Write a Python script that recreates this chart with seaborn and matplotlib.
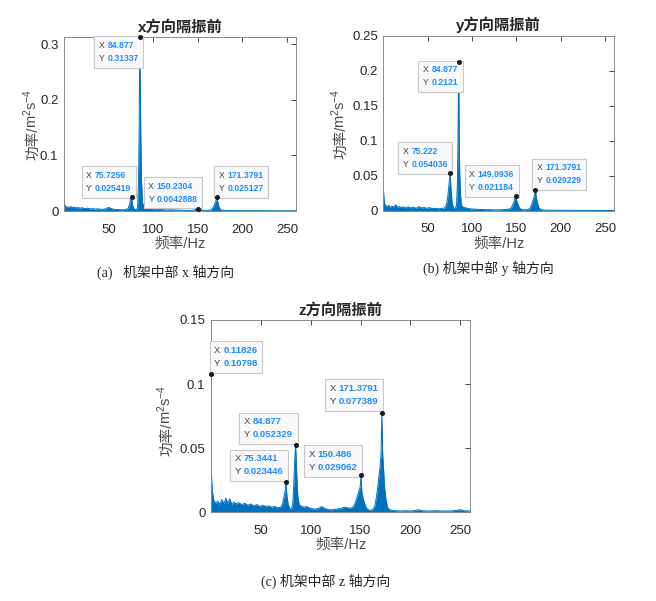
import numpy as np
import pandas as pd
import seaborn as sns
import matplotlib.pyplot as plt
from matplotlib.offsetbox import TextArea, HPacker, AnnotationBbox

# ---- spectra (frequency in Hz, power) ----
freq_x = [0.11826, 1, 2, 4, 6, 8, 10, 12, 14, 16, 18, 20, 23, 26, 29, 32, 35, 38, 41, 44,
          47, 50, 53, 56, 59, 62, 65, 68, 70, 72, 73.5, 74.5, 75.7256, 76.5, 77.5, 79, 81,
          82.5, 83.5, 84.3, 84.877, 85.4, 86, 86.8, 88, 90, 93, 96, 100, 105, 110, 115, 120,
          125, 130, 135, 140, 145, 150.2304, 155, 160, 164, 166, 168, 169.5, 170.5, 171.3791,
          172.2, 173.5, 175, 177, 180, 185, 190, 200, 210, 220, 230, 240, 250, 260]
psd_x = [0.013, 0.011, 0.008, 0.007, 0.0065, 0.008, 0.006, 0.007, 0.0055, 0.0065, 0.005, 0.006,
         0.0045, 0.005, 0.004, 0.0042, 0.0035, 0.004, 0.003, 0.0032, 0.004, 0.0065, 0.0045,
         0.003, 0.0028, 0.0025, 0.0022, 0.0025, 0.003, 0.005, 0.012, 0.019, 0.025419, 0.016,
         0.007, 0.003, 0.0025, 0.006, 0.05, 0.155, 0.31337, 0.24, 0.15, 0.06, 0.015, 0.007,
         0.005, 0.0045, 0.004, 0.003, 0.0025, 0.002, 0.0022, 0.0018, 0.0015, 0.0012, 0.001,
         0.0012, 0.0042888, 0.0015, 0.001, 0.0015, 0.004, 0.009, 0.015, 0.02, 0.025127, 0.017,
         0.008, 0.003, 0.0015, 0.001, 0.0008, 0.0007, 0.0006, 0.0006, 0.0005, 0.0005, 0.0004,
         0.0004, 0.0004]
tips_x = [84.877, 75.7256, 150.2304, 171.3791]

freq_y = [0.11826, 0.6, 1.2, 2, 4, 6, 8, 10, 12, 14, 16, 18, 20, 22, 25, 28, 31, 34, 37, 40,
          43, 46, 49, 52, 55, 58, 61, 64, 67, 69, 71, 72.5, 73.8, 75.222, 76.3, 77.5, 79, 81,
          82.5, 83.5, 84.3, 84.877, 85.4, 86, 86.8, 88, 90, 93, 96, 100, 105, 110, 115, 120,
          125, 130, 135, 140, 143, 145, 147, 148.2, 149.0936, 150, 151.5, 153, 155, 158, 162,
          165, 167, 169, 170.3, 171.3791, 172.3, 173.5, 175, 177, 180, 185, 190, 200, 210, 220,
          230, 240, 250, 260]
psd_y = [0.03, 0.02, 0.012, 0.008, 0.006, 0.0075, 0.005, 0.0065, 0.0055, 0.0085, 0.005, 0.006,
         0.0045, 0.0055, 0.004, 0.0055, 0.004, 0.005, 0.0035, 0.006, 0.004, 0.0045, 0.0035,
         0.0045, 0.003, 0.0035, 0.003, 0.0028, 0.0035, 0.004, 0.008, 0.018, 0.035, 0.054036,
         0.03, 0.012, 0.004, 0.003, 0.008, 0.04, 0.12, 0.2121, 0.12, 0.06, 0.025, 0.008, 0.005,
         0.004, 0.003, 0.0025, 0.002, 0.0018, 0.0015, 0.0015, 0.0012, 0.0012, 0.0015, 0.002,
         0.003, 0.006, 0.012, 0.017, 0.021184, 0.016, 0.01, 0.005, 0.002, 0.0012, 0.0015,
         0.003, 0.008, 0.016, 0.022, 0.029229, 0.02, 0.012, 0.005, 0.002, 0.001, 0.0008,
         0.0007, 0.0006, 0.0006, 0.0005, 0.0005, 0.0004, 0.0004, 0.0004]
tips_y = [84.877, 75.222, 149.0936, 171.3791]

freq_z = [0.11826, 0.3, 0.6, 1, 1.5, 2, 3, 5, 7, 9, 11, 13, 15, 17, 19, 21, 23, 25, 28, 31,
          34, 37, 40, 43, 46, 49, 52, 55, 58, 61, 64, 67, 70, 72, 73.5, 74.5, 75.3441, 76.2,
          77.5, 79, 80.5, 82, 83, 84, 84.877, 85.5, 86.3, 87.2, 88.5, 90, 93, 96, 100, 104,
          108, 111, 114, 118, 122, 126, 130, 134, 137, 140, 143, 145, 147, 148.5, 149.7,
          150.486, 151.3, 152.5, 154, 156, 159, 162, 164, 166, 168, 169.5, 170.5, 171.3791,
          172.2, 173, 174, 175.5, 177, 179, 182, 186, 190, 195, 200, 205, 208, 212, 218, 225,
          232, 240, 246, 250, 254, 260]
psd_z = [0.10798, 0.16, 0.03, 0.022, 0.016, 0.014, 0.009, 0.007, 0.0085, 0.006, 0.01, 0.0065,
         0.011, 0.007, 0.0105, 0.006, 0.008, 0.0065, 0.0075, 0.006, 0.007, 0.0055, 0.0065,
         0.005, 0.006, 0.0045, 0.0055, 0.0045, 0.005, 0.004, 0.0045, 0.0035, 0.004, 0.007,
         0.013, 0.017, 0.023446, 0.013, 0.006, 0.003, 0.002, 0.006, 0.02, 0.04, 0.052329,
         0.042, 0.025, 0.012, 0.006, 0.005, 0.004, 0.0045, 0.003, 0.0025, 0.003, 0.0045, 0.003,
         0.002, 0.002, 0.0025, 0.003, 0.004, 0.0035, 0.003, 0.0045, 0.008, 0.013, 0.017, 0.02,
         0.029062, 0.016, 0.011, 0.007, 0.003, 0.0015, 0.002, 0.004, 0.012, 0.025, 0.035,
         0.045, 0.077389, 0.045, 0.035, 0.02, 0.01, 0.004, 0.002, 0.0015, 0.0012, 0.001,
         0.0012, 0.001, 0.0015, 0.002, 0.0012, 0.001, 0.0012, 0.001, 0.001, 0.0015, 0.002,
         0.0012, 0.001]
tips_z = [0.11826, 84.877, 75.3441, 150.486, 171.3791]

titles = ["x方向隔振前", "y方向隔振前", "z方向隔振前"]
captions = ["(a)   机架中部 x 轴方向", "(b) 机架中部 y 轴方向", "(c) 机架中部 z 轴方向"]
yticks_all = [[0, 0.1, 0.2, 0.3], [0, 0.05, 0.1, 0.15, 0.2, 0.25], [0, 0.05, 0.1, 0.15]]
ytop = [0.31337, 0.25, 0.15]

sns.set_theme(style="white")
plt.rcParams['font.family'] = ['Liberation Sans', 'Noto Sans CJK SC', 'DejaVu Sans']
plt.rcParams['mathtext.fontset'] = 'custom'
plt.rcParams['mathtext.rm'] = 'Liberation Sans'
plt.rcParams['mathtext.default'] = 'rm'

blue = '#0072BD'
lab_col = '#4a4a4a'
fig = plt.figure(figsize=(6.56, 6.01), dpi=100)
axes = [fig.add_axes([0.0976, 0.6489, 0.3537, 0.2895]),
        fig.add_axes([0.5845, 0.6494, 0.3515, 0.2912]),
        fig.add_axes([0.3216, 0.1476, 0.3953, 0.3200])]

# datatip offsets (pixels from the marked point to the box centre)
tip_offsets = [[(-21, -15), (-23, 15), (-25, 16), (24, 15)],
               [(-18, -14), (-25, 15), (-24, 15), (24, 16)],
               [(25, 17), (-27, 17), (-27, 17), (-28, 14), (-28, 18)]]
tip_fs = [6.2, 6.2, 6.8]
cap_pos = [(166, 272), (488, 268), (326, 581)]
ylab_x = [-0.115, -0.165, -0.155]   # baseline of the y label, axes fraction
ylab_y0 = 0.295

data = [(freq_x, psd_x, tips_x), (freq_y, psd_y, tips_y), (freq_z, psd_z, tips_z)]


def datatip(ax, x, y, off, fs):
    lab = TextArea("X\nY", textprops=dict(color="#404040", fontsize=fs, linespacing=1.6))
    val = TextArea(f"{x}\n{y}", textprops=dict(color="#1a8cff", fontsize=fs,
                                              fontweight="bold", linespacing=1.6))
    pack = HPacker(children=[lab, val], align="center", pad=0, sep=2)
    ab = AnnotationBbox(pack, (x, y), xybox=off, boxcoords="offset pixels",
                        box_alignment=(0.5, 0.5), frameon=True, pad=0.4,
                        annotation_clip=False,
                        bboxprops=dict(boxstyle="square", ec="#c8c8c8", fc="#f9f9fc", lw=0.8))
    ax.add_artist(ab)
    ax.plot([x], [y], 'o', ms=2.6, color='#1a1a1a', zorder=6, clip_on=False)


for i, ax in enumerate(axes):
    f, p, tips = data[i]
    df = pd.DataFrame({'freq': f, 'psd': p})
    ax.fill_between(df['freq'], 0, df['psd'], color=blue, lw=0)
    sns.lineplot(data=df, x='freq', y='psd', ax=ax, color=blue, lw=0.7, estimator=None)
    ax.set_xlim(0.11826, 260)
    ax.set_ylim(0, ytop[i])
    ax.set_xticks([50, 100, 150, 200, 250])
    ax.set_xticklabels(['50', '100', '150', '200', '250'])
    ax.set_yticks(yticks_all[i])
    ax.set_yticklabels([f"{v:g}" for v in yticks_all[i]])
    ax.tick_params(direction='in', length=3.5, width=0.6, top=True, right=True,
                   labelsize=9.5, colors='#262626')
    ax.tick_params(axis='x', pad=9)
    ax.tick_params(axis='y', pad=4)
    for s in ax.spines.values():
        s.set_color('#8a8a8a')
        s.set_linewidth(0.7)
    ax.set_xlabel('频率/Hz', fontsize=10.5, color=lab_col, labelpad=1)
    ax.set_ylabel('')
    # y label in two pieces: Chinese part, then the unit with real superscripts
    t1 = ax.text(ylab_x[i], ylab_y0, '功率/', transform=ax.transAxes, rotation=90,
                 rotation_mode='anchor', ha='left', va='baseline', fontsize=10.5,
                 color=lab_col)
    ax.annotate(r'$\mathrm{m}^{2}\mathrm{s}^{-4}$', xy=(ylab_x[i], 1.0),
                xycoords=('axes fraction', t1), xytext=(0, -1.5),
                textcoords='offset points', rotation=90, rotation_mode='anchor',
                ha='left', va='baseline', fontsize=10.5, color=lab_col,
                annotation_clip=False)
    ax.set_title(titles[i], fontsize=11, fontweight='bold', pad=4,
                 family=['Liberation Sans', 'Noto Sans CJK SC'])
    for t, off in zip(tips, tip_offsets[i]):
        datatip(ax, t, p[f.index(t)], off, tip_fs[i])
    cx, cy = cap_pos[i]
    fig.text(cx / 656, 1 - cy / 601, captions[i], ha='center', va='center', fontsize=10,
             family=['Liberation Serif', 'Noto Sans CJK SC'])

fig.savefig('out.png', dpi=100)
